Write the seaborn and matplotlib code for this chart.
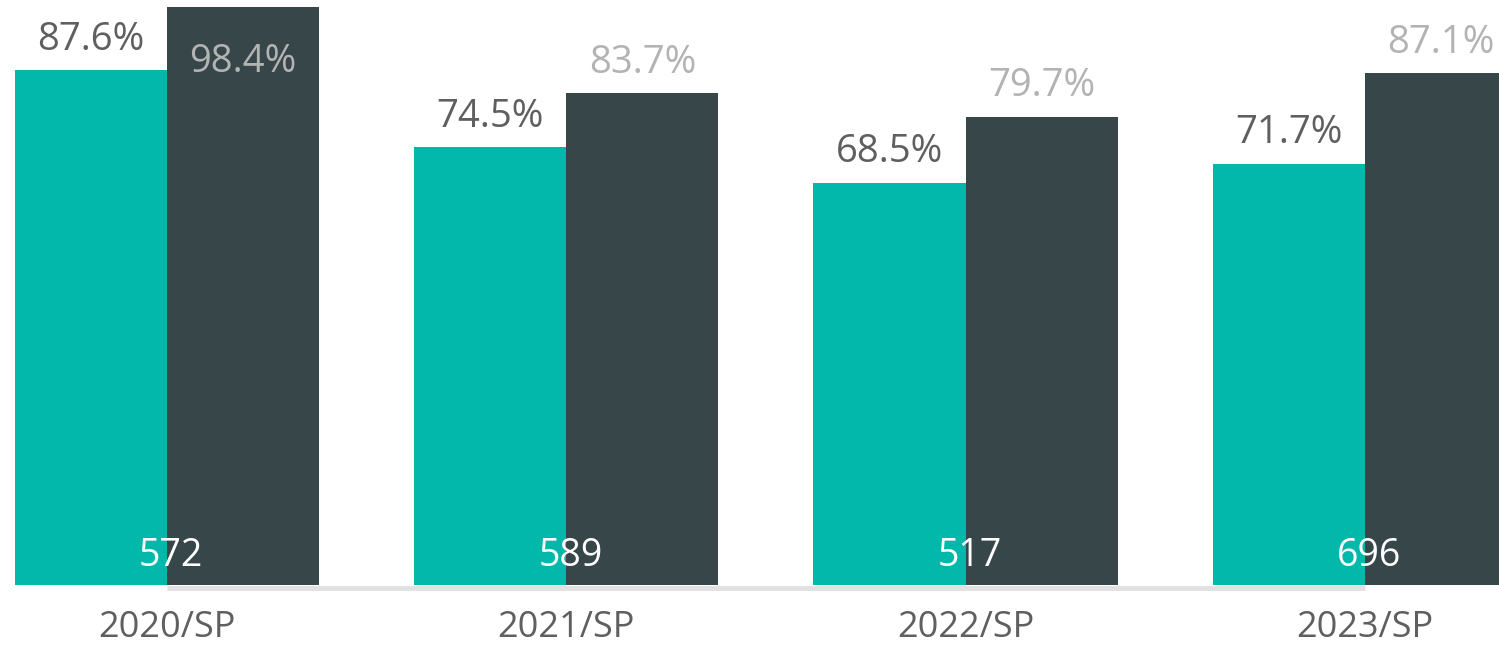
import matplotlib
matplotlib.use("Agg")
import matplotlib.pyplot as plt
import seaborn as sns
import pandas as pd

categories = ["2020/SP", "2021/SP", "2022/SP", "2023/SP"]
series_a = [87.6, 74.5, 68.5, 71.7]
series_b = [98.4, 83.7, 79.7, 87.1]
counts = [572, 589, 517, 696]
series_names = ["A", "B"]

TEAL = "#01B8AA"
DARK = "#374649"
LABEL_DARK = "#5f5f5f"
LABEL_LIGHT = "#b3b3b3"

sns.set_theme(style="white")
plt.rcParams["font.family"] = ["Open Sans", "DejaVu Sans"]

df = pd.DataFrame({
    "cat": categories * 2,
    "series": [series_names[0]] * 4 + [series_names[1]] * 4,
    "value": series_a + series_b,
})

fig = plt.figure(figsize=(14.99, 6.46), dpi=100)
ax = fig.add_axes([0, 61 / 646, 1, 1 - 61 / 646])

sns.barplot(data=df, x="cat", y="value", hue="series", order=categories,
            hue_order=series_names, palette=[TEAL, DARK], width=0.762,
            gap=0, saturation=1, legend=False, ax=ax, zorder=2,
            linewidth=0, edgecolor="none")

ax.set_xlim(-0.418, 3.336)
ax.set_ylim(0, 99.6)

# baseline
ax.plot([0, 3], [-0.45, -0.45], color="#e1e1e1", lw=3.5, zorder=1,
        clip_on=False, solid_capstyle="butt")

bar_w = 0.762 / 2
for i in range(len(categories)):
    xa = i - bar_w / 2
    xb = i + bar_w / 2
    ax.annotate(f"{series_a[i]}%", (xa, series_a[i]), xytext=(0, 15),
                textcoords="offset points", ha="center", va="baseline",
                fontsize=27.5, color=LABEL_DARK, zorder=5)
    if series_b[i] > 95:
        ax.annotate(f"{series_b[i]}%", (xb, series_b[i]), xytext=(0, -47),
                    textcoords="offset points", ha="center", va="baseline",
                    fontsize=27.5, color=LABEL_LIGHT, zorder=5)
    else:
        ax.annotate(f"{series_b[i]}%", (xb, series_b[i]), xytext=(0, 15),
                    textcoords="offset points", ha="center", va="baseline",
                    fontsize=27.5, color=LABEL_LIGHT, zorder=5)
    ax.annotate(f"{counts[i]}", (i, 0), xytext=(3, 14),
                textcoords="offset points", ha="center", va="baseline",
                fontsize=27, color="white", zorder=5)

ax.set_xlabel("")
ax.set_ylabel("")
ax.set_yticks([])
ax.tick_params(axis="x", length=0, pad=18, labelsize=26, labelcolor="#5f5f5f")
for s in ax.spines.values():
    s.set_visible(False)

fig.savefig("out.png", dpi=100)
